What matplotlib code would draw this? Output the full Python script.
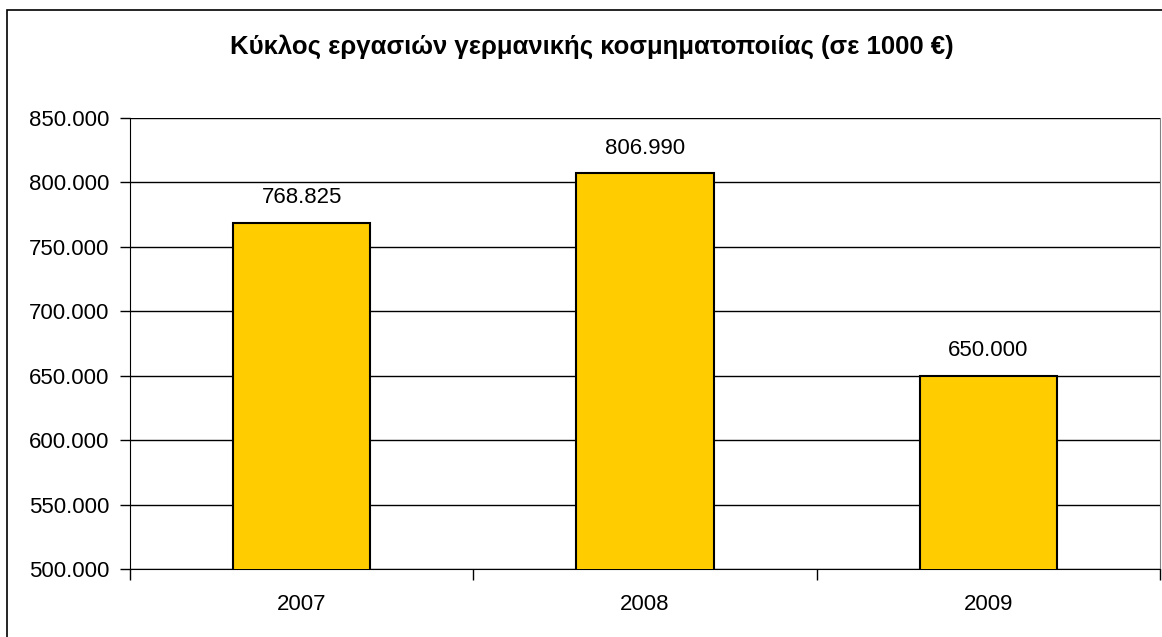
import matplotlib.pyplot as plt
from matplotlib.patches import Rectangle
from matplotlib.ticker import FuncFormatter

plt.rcParams['font.family'] = ['Liberation Sans', 'DejaVu Sans']

years = ['2007', '2008', '2009']
turnover = [768825, 806990, 650000]
title = 'Κύκλος εργασιών γερμανικής κοσμηματοποιίας (σε 1000 €)'


def dotted(v, pos=None):
    return f'{int(round(v)):,}'.replace(',', '.')


fig = plt.figure(figsize=(11.62, 6.37), dpi=100)
fig.patch.set_facecolor('white')

# outer chart frame (runs off the right/bottom edge as in the source)
fig.add_artist(Rectangle((7 / 1162, -0.05), 1.2, 1 - 10 / 637 + 0.05,
                         transform=fig.transFigure, fill=False,
                         edgecolor='black', linewidth=1.2))

ax = fig.add_axes([130 / 1162, 1 - 569 / 637, 1030 / 1162, 451 / 637])
x = list(range(len(years)))
ax.bar(x, turnover, width=0.4, color='#FFCC00', edgecolor='black',
       linewidth=1.5, zorder=3)

for xi, v in zip(x, turnover):
    ax.annotate(dotted(v), (xi, v), xytext=(0, 18), textcoords='offset points',
                ha='center', va='center', fontsize=16)

ax.set_ylim(500000, 850000)
ax.set_xlim(-0.5, 2.5)
ax.set_yticks(range(500000, 850001, 50000))
ax.yaxis.set_major_formatter(FuncFormatter(dotted))
ax.set_xticks(x)
ax.set_xticklabels(years)
ax.set_xticks([-0.5, 0.5, 1.5, 2.5], minor=True)
ax.tick_params(axis='x', which='major', length=0, pad=18, labelsize=16)
ax.tick_params(axis='x', which='minor', length=8, width=1, direction='out')
ax.tick_params(axis='y', length=7, width=1, direction='out', pad=8, labelsize=16)

ax.yaxis.grid(True, color='black', linewidth=1)
ax.set_axisbelow(True)
ax.spines['top'].set_visible(False)
ax.spines['right'].set_color('#808080')
ax.spines['left'].set_color('black')
ax.spines['bottom'].set_color('black')

fig.text(592 / 1162, 1 - 47 / 637, title, ha='center', va='center',
         fontsize=18.5, fontweight='bold')

fig.savefig('out.png', dpi=100)
